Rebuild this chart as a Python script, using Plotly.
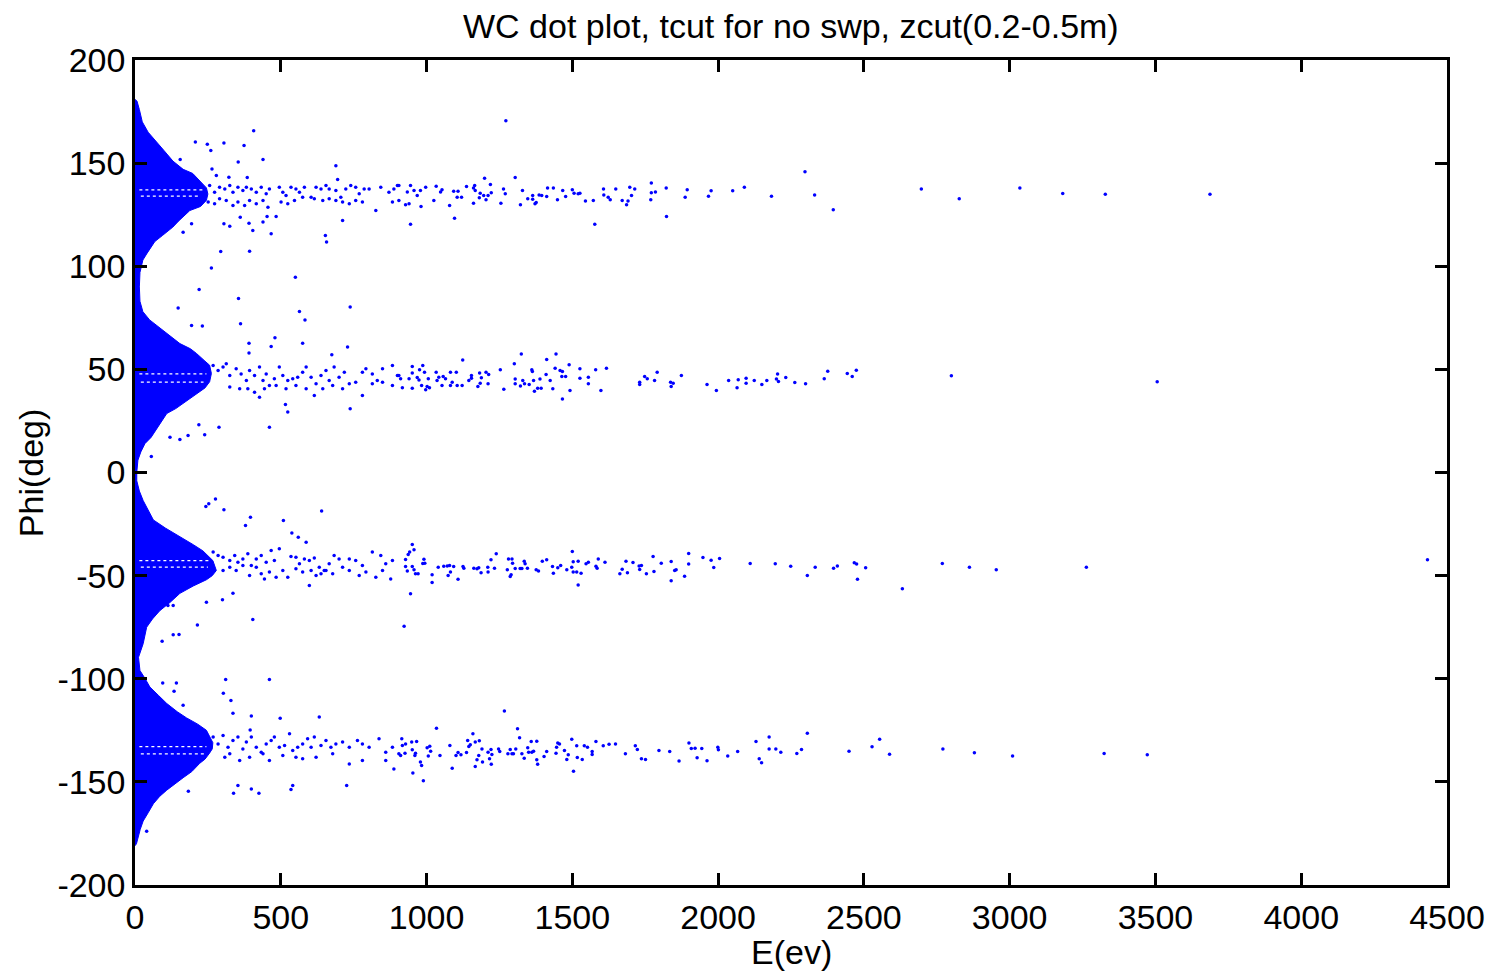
import plotly.graph_objects as go

TITLE = "WC dot plot, tcut for no swp, zcut(0.2-0.5m)"
X_LABEL = "E(ev)"
Y_LABEL = "Phi(deg)"
X_TICKS = [0, 500, 1000, 1500, 2000, 2500, 3000, 3500, 4000, 4500]
Y_TICKS = [-200, -150, -100, -50, 0, 50, 100, 150, 200]

# Outline of the saturated (solid) low-energy region: (E, phi)
dense_outline = [
    (0, 181), (7, 180), (15, 176), (25, 170), (45, 165), (68, 161), (100, 156), (130, 151),
    (165, 147), (198, 145), (225, 141), (245, 138), (250, 135), (245, 132), (225, 129),
    (188, 127), (150, 122), (130, 119), (95, 115), (68, 112), (40, 106), (27, 103), (17, 97),
    (15, 90), (17, 83), (27, 78), (50, 74), (85, 70), (120, 66), (154, 62.5), (190, 60),
    (211, 57.7), (240, 54), (256, 52), (262, 48), (256, 44), (240, 41), (228, 39.8), (200, 37),
    (177, 35), (140, 31), (109, 28.6), (80, 22), (55, 17), (34, 14), (20, 10), (10, 6), (6, 0),
    (6, -4), (15, -9), (28, -13.6), (45, -18), (63, -23), (105, -27), (154, -31), (200, -35),
    (233, -38), (267, -42.7), (279, -47.5), (265, -50), (245, -52), (200, -55), (154, -58.6),
    (120, -63), (85, -67), (60, -71), (40, -75), (28, -83), (12, -89.6), (17, -96), (35, -100),
    (51, -104), (80, -108), (109, -112), (145, -116), (177, -119), (215, -122), (245, -125),
    (267, -131), (265, -134), (256, -136), (240, -139), (222, -141), (195, -145), (165, -148),
    (135, -151), (109, -154), (85, -157), (63, -160.6), (45, -165), (28, -169), (18, -173),
    (10, -177), (5, -180), (0, -181),
]

# Thin white streaks inside the solid region at the band centres: phi, E start, E end
streak_phi = [137.0, 134.0, 47.8, 43.8, -42.7, -45.9, -132.9, -136.4]
streak_E0 = [15, 20, 15, 20, 15, 20, 15, 20]
streak_E1 = [235, 225, 245, 235, 255, 250, 245, 240]

# Individual dots (E, phi)
dots_band135 = [
    (407, 165.7), (207, 160.2), (248, 159.2), (260, 156.1), (305, 159.8), (374, 158.5), (439, 151.8),
    (354, 150.5), (264, 147.2), (155, 151.8), (689, 148.7), (695, 142.1), (279, 144.0), (322, 143.2),
    (385, 143.0),
    (256, 139.2), (273, 135.9), (290, 138.3), (308, 137.5), (325, 139.2), (336, 135.9), (353, 138.3),
    (370, 136.7), (382, 138.3), (399, 137.5), (416, 135.9), (433, 138.3), (450, 135.1), (461, 137.5),
    (495, 138.3), (507, 135.9), (518, 134.3), (535, 138.3), (552, 137.5), (564, 135.9), (581, 138.3),
    (604, 133.5), (621, 138.3), (638, 137.5), (655, 139.2), (666, 137.5), (689, 136.7), (706, 133.5),
    (723, 137.5), (740, 139.2), (757, 138.3), (769, 135.1), (786, 137.5), (803, 137.5), (843, 138.3),
    (871, 135.9), (888, 137.5), (900, 139.2),
    (251, 131.1), (273, 130.3), (290, 132.7), (313, 131.9), (336, 129.5), (353, 131.1), (376, 129.5),
    (393, 131.9), (416, 130.3), (439, 131.9), (456, 128.6), (501, 131.1), (524, 130.3), (547, 131.9),
    (575, 133.5), (615, 132.7), (644, 131.9), (666, 132.7), (689, 131.9), (712, 131.1), (735, 130.3),
    (757, 131.9), (780, 131.1), (826, 127.0), (883, 131.1),
    (305, 120.6), (325, 119.4), (361, 123.8), (391, 120.9), (404, 117.3), (439, 121.4), (453, 124.1),
    (484, 124.1), (467, 115.7), (194, 120.6), (165, 116.5), (653, 114.9), (657, 111.8), (712, 122.2),
    (294, 107.2), (393, 107.3), (262, 99.2),
    (1272, 170.5), (1199, 142.7), (1304, 143.0),
    (905, 139.2), (945, 139.2), (934, 136.0), (957, 136.7), (979, 136.7), (968, 134.3), (997, 138.3),
    (1033, 138.8), (1025, 131.9), (1048, 136.0), (1053, 137.1), (1093, 136.4), (1108, 136.4),
    (1105, 133.5), (1120, 133.5), (1137, 138.7), (1161, 138.0), (1165, 139.2), (1167, 136.7),
    (1184, 135.4), (1181, 133.2), (1196, 134.3), (1204, 132.2), (1211, 134.3), (1222, 135.6),
    (1219, 139.6), (1264, 137.5), (1270, 135.1), (1329, 136.7), (1347, 132.7), (1364, 134.3),
    (1364, 132.5), (1386, 134.6), (1395, 134.3), (1415, 137.9), (1412, 133.8), (1435, 137.9),
    (1467, 136.7), (1449, 132.2), (1477, 133.8), (1500, 137.1), (1506, 135.4), (1520, 135.1),
    (1526, 135.4), (1545, 131.6), (1572, 131.9), (1607, 137.5), (1608, 134.6), (1623, 133.5),
    (1630, 132.2), (1649, 137.4), (1671, 131.9), (1686, 129.8), (1691, 131.6), (1697, 138.3),
    (1703, 134.3), (1714, 137.5), (1771, 140.4), (1771, 135.6), (1785, 136.0), (1769, 132.2),
    (1822, 137.9), (1887, 133.5), (1894, 137.1), (1967, 134.0), (1976, 136.6), (2050, 136.6),
    (2090, 138.3), (2183, 134.0),
    (905, 131.9), (928, 129.8), (940, 130.3), (981, 129.0), (1079, 129.5), (1161, 130.6), (1255, 130.6),
    (1322, 129.8), (1376, 130.9), (1372, 130.3),
    (945, 120.4), (1096, 123.3), (1577, 120.4), (1823, 124.1),
    (2298, 145.8), (2331, 134.6), (2395, 127.4), (2697, 137.5), (2827, 132.7), (3035, 137.9),
    (3182, 135.3), (3328, 134.9), (3687, 134.9),
]

dots_between_100 = [
    (550, 94.7), (220, 88.7), (355, 84.4), (148, 79.7), (738, 80.2), (564, 78.1), (583, 74.0),
    (194, 71.3), (231, 71.0), (362, 72.1), (480, 65.3), (391, 62.7), (575, 62.7), (467, 61.1),
    (729, 60.8), (391, 58.0), (675, 57.1),
]

dots_band50 = [
    (268, 51.9), (285, 49.5), (302, 51.1), (313, 52.7), (325, 47.0), (347, 50.3), (364, 47.8),
    (382, 44.6), (393, 49.5), (410, 47.0), (427, 51.1), (439, 44.6), (450, 47.8), (461, 42.2),
    (478, 45.4), (495, 51.1), (507, 47.0), (524, 44.6), (541, 45.4), (558, 46.2), (575, 48.6),
    (587, 51.1), (604, 46.2), (621, 43.0), (638, 47.0), (655, 49.5), (666, 44.6), (683, 51.1),
    (700, 46.2), (718, 48.6), (735, 43.0), (757, 43.8), (780, 48.6), (792, 50.3), (814, 47.8),
    (831, 44.6), (849, 50.3), (883, 51.9), (900, 47.0),
    (325, 41.4), (359, 40.6), (387, 40.6), (410, 38.9), (444, 40.6), (484, 42.2), (518, 40.6),
    (552, 42.2), (587, 40.6), (615, 37.3), (644, 40.6), (678, 42.2), (712, 40.6), (780, 37.3),
    (814, 43.0), (849, 43.8), (883, 42.2),
    (427, 36.5), (516, 33.0), (524, 29.3), (738, 30.9), (219, 23.1), (288, 22.0), (461, 22.0),
    (120, 17.1), (154, 16.0), (182, 17.9), (239, 18.3), (56, 7.8),
    (905, 47.0), (911, 45.4), (917, 41.1), (940, 45.4), (951, 51.4), (951, 48.2), (951, 40.9),
    (968, 46.1), (976, 49.8), (974, 44.9), (987, 51.9), (993, 48.6), (983, 42.2), (997, 40.1),
    (1006, 45.4), (1010, 41.1), (1002, 41.7), (1033, 48.6), (1036, 44.6), (1042, 46.2), (1053, 42.2),
    (1057, 46.5), (1065, 45.4), (1082, 48.6), (1082, 42.2), (1088, 43.8), (1102, 48.6), (1105, 42.2),
    (1124, 54.6), (1122, 42.2), (1145, 44.6), (1154, 47.0), (1154, 45.7), (1182, 48.2), (1184, 43.3),
    (1188, 45.9), (1176, 41.7), (1204, 48.6), (1213, 47.5), (1211, 43.0), (1253, 49.8), (1265, 40.4),
    (1301, 52.7), (1304, 45.3), (1304, 43.0), (1325, 57.5), (1322, 42.0), (1330, 44.6), (1336, 43.0),
    (1352, 42.7), (1361, 49.8), (1363, 49.0), (1367, 44.6), (1370, 39.4), (1381, 40.9), (1393, 40.9),
    (1389, 45.3), (1412, 54.8), (1410, 47.5), (1424, 44.6), (1433, 40.6), (1441, 50.6), (1444, 57.5),
    (1458, 49.5), (1466, 49.0), (1464, 46.5), (1477, 46.5), (1466, 35.6), (1489, 52.2), (1492, 39.8),
    (1526, 50.3), (1526, 45.7), (1555, 46.2), (1555, 43.0), (1580, 49.8), (1598, 39.8), (1617, 50.6),
    (1731, 43.8), (1731, 42.7), (1748, 46.5), (1757, 45.4), (1782, 44.6), (1791, 48.6), (1837, 43.8),
    (1839, 41.7), (1846, 43.3), (1874, 47.0), (1962, 42.7), (1994, 39.8), (2036, 44.6), (2065, 41.1),
    (2069, 45.0), (2096, 45.7), (2096, 43.3), (2124, 44.6), (2150, 42.7), (2167, 44.6), (2204, 47.8),
    (2207, 44.1), (2200, 45.3), (2232, 46.1), (2263, 43.6),
    (2300, 43.0), (2364, 45.4), (2376, 49.1), (2443, 48.0), (2460, 46.5), (2474, 49.6), (2800, 46.9),
    (3506, 44.0),
]

dots_band_m45 = [
    (243, -16.5), (253, -15.2), (276, -12.8), (305, -18.1), (396, -21.7), (379, -25.7), (509, -23.3),
    (538, -29.3), (560, -31.4), (587, -33.8), (640, -18.7),
    (268, -38.6), (285, -40.2), (302, -41.1), (325, -42.7), (342, -40.2), (353, -43.5), (370, -41.9),
    (387, -39.4), (399, -45.1), (416, -41.9), (433, -40.2), (450, -43.5), (467, -37.8), (478, -42.7),
    (495, -37.0), (535, -40.7), (552, -41.1), (564, -44.3), (581, -41.9), (598, -42.7), (615, -41.4),
    (632, -45.9), (649, -47.5), (666, -44.3), (683, -40.2), (700, -41.9), (735, -41.9), (757, -42.7),
    (780, -45.1), (814, -38.6), (843, -40.2), (860, -44.3), (883, -42.7),
    (302, -47.5), (325, -45.9), (347, -47.5), (370, -45.1), (393, -49.9), (416, -45.9), (433, -49.1),
    (444, -51.6), (461, -48.3), (484, -50.8), (507, -47.5), (524, -50.8), (552, -46.7), (575, -48.3),
    (598, -54.8), (604, -47.5), (621, -49.9), (638, -49.1), (655, -47.5), (678, -49.1), (712, -45.9),
    (735, -47.5), (769, -49.9), (792, -48.3), (826, -50.8), (849, -47.5), (877, -51.6),
    (245, -62.9), (300, -61.7), (336, -58.5), (404, -71.3), (214, -73.9), (131, -78.7), (151, -78.5),
    (93, -81.8), (113, -64.5), (131, -64.5),
    (923, -74.5), (945, -58.8), (928, -42.2), (928, -45.6), (934, -47.8), (937, -39.8), (942, -38.6),
    (951, -34.9), (957, -37.5), (951, -45.6), (957, -47.2), (962, -49.1), (971, -49.1), (991, -42.0),
    (987, -44.1), (994, -44.0), (1019, -49.6), (1019, -53.3), (1040, -45.9), (1059, -45.4),
    (1071, -45.3), (1079, -45.1), (1074, -49.9), (1082, -48.3), (1093, -45.6), (1108, -51.7),
    (1125, -45.6), (1128, -46.4), (1162, -46.4), (1173, -46.7), (1179, -46.2), (1187, -48.6),
    (1210, -45.9), (1211, -48.3), (1221, -42.3), (1233, -46.4), (1239, -39.4), (1277, -47.2),
    (1281, -41.9), (1293, -41.9), (1295, -44.0), (1290, -49.6), (1287, -50.4), (1304, -46.5),
    (1321, -46.5), (1327, -46.5), (1335, -43.0), (1338, -44.3), (1346, -46.4), (1376, -47.2),
    (1384, -47.8), (1397, -43.0), (1412, -42.3), (1432, -45.6), (1435, -48.8), (1450, -46.2),
    (1460, -45.1), (1481, -47.2), (1500, -38.3), (1498, -45.9), (1503, -48.3), (1503, -43.3),
    (1520, -43.0), (1520, -54.5), (1530, -48.8), (1515, -48.3), (1547, -44.3), (1555, -43.5),
    (1581, -45.4), (1589, -41.9), (1585, -46.4), (1612, -43.5), (1663, -49.1), (1671, -46.9),
    (1689, -48.6), (1684, -43.0), (1708, -43.6), (1729, -45.3), (1737, -45.1), (1731, -47.0),
    (1754, -49.1), (1777, -40.7), (1780, -48.0), (1805, -44.0), (1839, -43.1), (1839, -52.5),
    (1851, -47.5), (1856, -47.2), (1885, -50.3), (1899, -39.3), (1899, -44.4), (1948, -41.2),
    (1976, -42.5), (1985, -46.1), (2005, -41.7), (2110, -44.1), (2196, -44.3), (2249, -45.4),
    (2306, -49.9), (2333, -45.9), (2396, -46.4), (2409, -45.3), (2467, -43.8), (2475, -44.4),
    (2478, -51.7), (2506, -46.2), (2632, -56.4), (2769, -44.1), (2862, -45.9), (2954, -47.2),
    (3263, -45.9), (4433, -42.3),
]

dots_between_m100 = [
    (311, -100.4), (461, -100.4), (142, -102.0), (95, -102.1), (134, -106.0), (303, -107.0),
    (329, -110.5), (165, -112.9), (336, -116.7), (399, -118.1), (498, -119.1), (632, -118.6),
    (395, -124.8),
]

dots_band_m135 = [
    (268, -128.3), (285, -131.6), (302, -127.5), (319, -133.2), (336, -129.9), (353, -128.3),
    (370, -134.0), (382, -130.7), (399, -128.3), (416, -133.2), (433, -135.6), (450, -131.6),
    (467, -129.9), (478, -128.3), (495, -133.2), (513, -132.4), (530, -126.7), (541, -134.8),
    (558, -133.2), (575, -131.6), (592, -129.1), (604, -133.2), (615, -128.3), (638, -132.4),
    (655, -129.9), (672, -133.2), (689, -131.6), (712, -130.7), (735, -133.2), (763, -129.9),
    (780, -131.6), (803, -133.2), (837, -129.1), (860, -135.6), (883, -133.2),
    (308, -138.0), (325, -136.4), (359, -139.6), (393, -138.0), (439, -136.4), (461, -139.6),
    (507, -137.2), (552, -138.0), (575, -138.8), (621, -138.0), (678, -136.4), (735, -141.3),
    (780, -139.6), (860, -139.6), (888, -143.7),
    (353, -151.8), (338, -155.5), (399, -153.4), (425, -155.5), (535, -153.7), (541, -151.8),
    (726, -151.8), (183, -154.5), (40, -173.9),
    (905, -136.4), (911, -137.2), (915, -129.1), (917, -132.4), (926, -136.1), (928, -131.6),
    (949, -130.7), (951, -134.4), (953, -145.7), (960, -137.2), (962, -136.1), (966, -130.4),
    (979, -140.4), (983, -142.0), (989, -149.4), (1002, -133.5), (1006, -137.5), (1011, -132.7),
    (1014, -135.1), (1034, -124.0), (1046, -137.2), (1080, -132.4), (1088, -143.4), (1101, -137.2),
    (1108, -135.8), (1118, -136.9), (1137, -135.8), (1141, -129.9), (1145, -132.8), (1150, -132.0),
    (1159, -126.7), (1167, -130.7), (1167, -142.5), (1173, -139.3), (1179, -137.2), (1181, -130.1),
    (1190, -134.1), (1192, -140.4), (1211, -135.6), (1216, -138.8), (1221, -134.3), (1222, -141.5),
    (1224, -136.7), (1247, -134.0), (1251, -135.3), (1267, -115.6), (1279, -136.4), (1287, -134.3),
    (1293, -136.4), (1298, -136.4), (1306, -134.0), (1312, -124.3), (1319, -128.6), (1327, -136.4),
    (1335, -138.5), (1347, -133.5), (1350, -135.6), (1359, -130.4), (1361, -135.6), (1367, -135.1),
    (1378, -130.3), (1378, -139.3), (1381, -141.5), (1403, -137.7), (1412, -135.3), (1444, -136.1),
    (1446, -133.2), (1450, -131.1), (1456, -131.6), (1473, -134.8), (1481, -139.1), (1486, -136.9),
    (1498, -129.3), (1504, -144.8), (1515, -132.5), (1517, -138.2), (1534, -139.1), (1541, -132.5),
    (1552, -133.2), (1568, -135.3), (1568, -136.7), (1581, -130.4), (1606, -132.5), (1626, -131.7),
    (1648, -131.6), (1682, -136.4), (1716, -132.5), (1723, -134.3), (1737, -138.8), (1751, -139.1),
    (1797, -134.8), (1834, -135.3), (1866, -139.9), (1900, -131.2), (1908, -133.8), (1921, -133.7),
    (1928, -138.3), (1944, -133.8), (1962, -139.8), (1999, -133.2), (2001, -134.4), (2033, -137.5),
    (2067, -135.3), (2130, -130.4), (2141, -138.8), (2149, -140.7), (2175, -128.3), (2175, -134.1),
    (2198, -134.0), (2215, -135.6), (2270, -136.2),
    (2286, -134.3), (2306, -126.4), (2449, -135.1), (2528, -133.0), (2554, -129.3), (2588, -136.6),
    (2771, -134.1), (2879, -135.9), (3010, -137.5), (3324, -136.3), (3472, -136.9),
]

BLUE = "rgb(0,0,255)"
FONT = "Liberation Sans, Arial, sans-serif"

all_dots = dots_band135 + dots_between_100 + dots_band50 + dots_band_m45 + dots_between_m100 + dots_band_m135

fig = go.Figure()

fig.add_trace(go.Scatter(
    x=[p[0] for p in dense_outline], y=[p[1] for p in dense_outline],
    mode="lines", fill="toself", fillcolor=BLUE,
    line=dict(color=BLUE, width=1), hoverinfo="skip", showlegend=False,
))

for ph, e0, e1 in zip(streak_phi, streak_E0, streak_E1):
    fig.add_trace(go.Scatter(
        x=[e0, e1], y=[ph, ph], mode="lines",
        line=dict(color="white", width=1.2, dash="dot"),
        hoverinfo="skip", showlegend=False,
    ))

fig.add_trace(go.Scatter(
    x=[p[0] for p in all_dots], y=[p[1] for p in all_dots],
    mode="markers", marker=dict(color=BLUE, size=3.5, line=dict(width=0)),
    showlegend=False,
))

axis_common = dict(
    showgrid=False, zeroline=False, showline=True, linecolor="black", linewidth=2.5,
    mirror="ticks", ticks="inside", ticklen=12, tickwidth=2.5, tickcolor="black",
    tickfont=dict(family=FONT, size=34, color="black"),
)

fig.update_xaxes(range=[0, 4500], tickvals=X_TICKS, ticktext=[str(v) for v in X_TICKS], **axis_common)
fig.update_yaxes(range=[-200, 200], tickvals=Y_TICKS, ticktext=[str(v) for v in Y_TICKS], **axis_common)

# the page adds an 8 px body margin, so the figure is 8 px smaller and margins shifted
fig.update_layout(
    width=1489, height=963,
    margin=dict(l=127, r=45, t=52, b=86),
    paper_bgcolor="white", plot_bgcolor="white",
    annotations=[
        dict(text=TITLE, x=0.5, xref="paper", y=1.0418, yref="paper",
             xanchor="center", yanchor="middle", showarrow=False,
             font=dict(family=FONT, size=34, color="black")),
        dict(text=X_LABEL, x=0.5, xref="paper", y=-0.081, yref="paper",
             xanchor="center", yanchor="middle", showarrow=False,
             font=dict(family=FONT, size=34, color="black")),
        dict(text=Y_LABEL, x=-0.0795, xref="paper", y=0.5, yref="paper",
             xanchor="center", yanchor="middle", showarrow=False, textangle=-90,
             font=dict(family=FONT, size=34, color="black")),
    ],
)

fig.write_html("out.html")
